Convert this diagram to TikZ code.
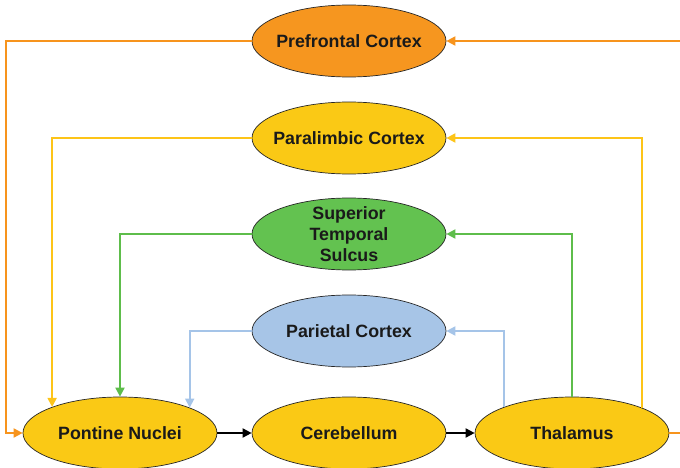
\documentclass[tikz,border=0pt]{standalone}
\usepackage{fontspec}
\setmainfont{Liberation Sans}
\usetikzlibrary{arrows.meta,shapes.geometric}
\definecolor{fOrange}{HTML}{F6961F}
\definecolor{fYellow}{HTML}{FAC915}
\definecolor{fGreen}{HTML}{63C250}
\definecolor{fBlue}{HTML}{A7C5E7}
\definecolor{lOrange}{HTML}{F7941D}
\definecolor{lYellow}{HTML}{FDC418}
\definecolor{lGreen}{HTML}{5EBD4B}
\definecolor{lBlue}{HTML}{A5C4E8}
\definecolor{txt}{HTML}{1A1A1A}
\begin{document}
\begin{tikzpicture}[x=1pt,y=-1pt,
  region/.style={ellipse, draw=black!85, line width=0.7pt, minimum width=194pt, minimum height=72pt,
    inner sep=0pt, label={[align=center, text=txt, inner sep=0pt, font=\fontsize{17.8}{21}\selectfont\bfseries]center:#1}},
  conn/.style={line width=1.8pt, -{Triangle[length=9pt,width=9pt]}}]
\useasboundingbox (0,0) rectangle (680,468);
\node[region={Prefrontal Cortex}, fill=fOrange] (pf) at (349,41) {};
\node[region={Paralimbic Cortex}, fill=fYellow] (pl) at (349,138) {};
\node[region={Superior\\Temporal\\Sulcus}, fill=fGreen] (sts) at (349,234) {};
\node[region={Parietal Cortex}, fill=fBlue] (pa) at (349,331) {};
\node[region={Pontine Nuclei}, fill=fYellow] (pn) at (120,433) {};
\node[region={Cerebellum}, fill=fYellow] (cb) at (349,433) {};
\node[region={Thalamus}, fill=fYellow] (th) at (572,433) {};
\coordinate (oL) at (6,433);
\coordinate (oR) at (684,433);
% orange
\draw[conn, lOrange] (pf.west) -| (oL) -- (pn.west);
\draw[conn, lOrange] (th.east) -- (oR) |- (pf.east);
% yellow
\draw[conn, lYellow] (pl.west) -| (pn.159.3);
\draw[conn, lYellow] (th.20.7) |- (pl.east);
% green
\draw[conn, lGreen] (sts.west) -| (pn.north);
\draw[conn, lGreen] (th.north) |- (sts.east);
% blue
\draw[conn, lBlue] (pa.west) -| (pn.20.1);
\draw[conn, lBlue] (th.159.9) |- (pa.east);
% black
\draw[conn, black] (pn.east) -- (cb.west);
\draw[conn, black] (cb.east) -- (th.west);
\end{tikzpicture}
\end{document}
